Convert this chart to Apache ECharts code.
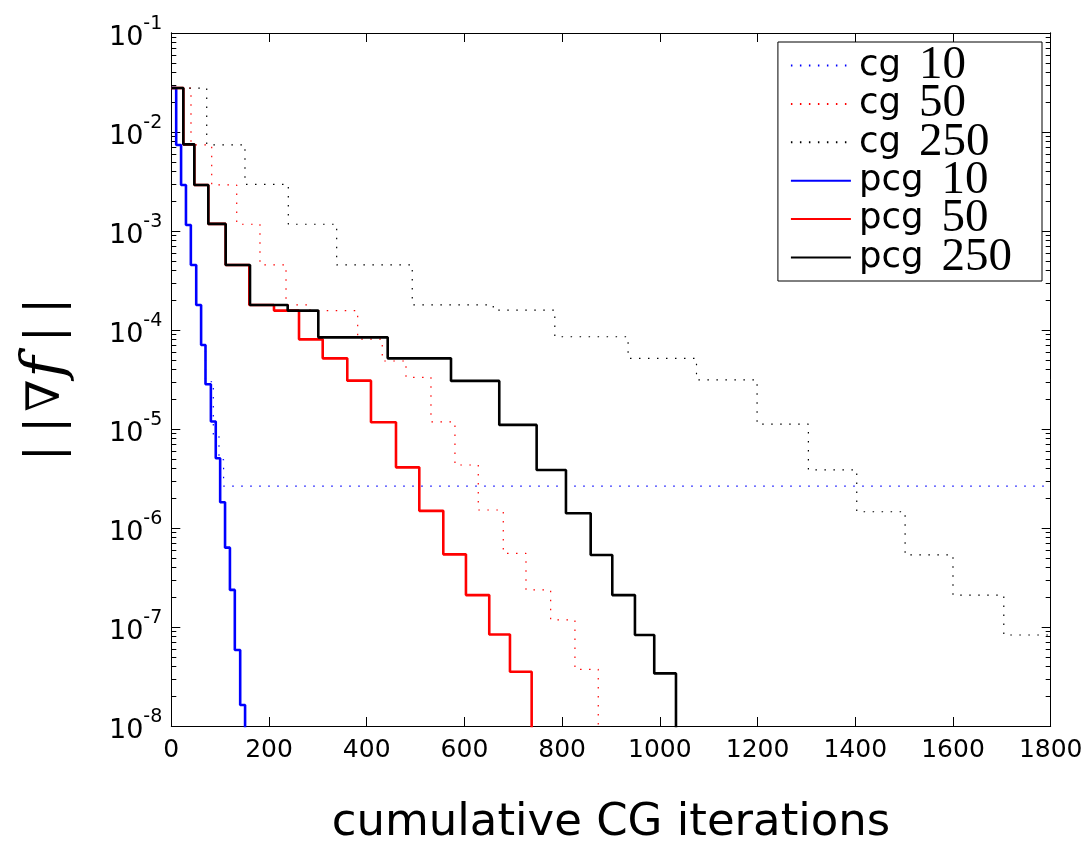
<!DOCTYPE html>
<html><head><meta charset="utf-8">
<script src="https://cdn.jsdelivr.net/npm/echarts@6/dist/echarts.min.js"></script>
<style>html,body{margin:0;padding:0;background:#fff}#c{width:1091px;height:845px}</style>
</head><body><div id="c"></div>
<script>
// ---- data ----
const seriesNames = ['cg 10', 'cg 50', 'cg 250', 'pcg 10', 'pcg 50', 'pcg 250'];
const xTickValues = [0, 200, 400, 600, 800, 1000, 1200, 1400, 1600, 1800];
const yDecadeExponents = [-8, -7, -6, -5, -4, -3, -2, -1];

// step breakpoints: value holds from x[i] until x[i+1]
const cg10X  = [0, 10, 20, 30, 40, 51, 61, 70, 86, 97.6, 107, 1800];
const cg10Y  = [2.78e-2, 7.4e-3, 2.92e-3, 1.15e-3, 4.54e-4, 1.79e-4, 7.05e-5, 3.0e-5, 8.7e-6, 4.9e-6, 2.65e-6, 2.65e-6];

const cg50X  = [0, 40.3, 82.7, 133.9, 181.5, 234.8, 283.9, 381.5, 431.8, 480.4, 531.5, 580.6, 628.3, 679.5, 726, 776.5, 826.2, 873.9];
const cg50Y  = [2.78e-2, 7.4e-3, 2.92e-3, 1.17e-3, 4.54e-4, 1.79e-4, 1.57e-4, 8.1e-5, 4.86e-5, 3.33e-5, 1.18e-5, 4.33e-6, 1.52e-6, 5.55e-7, 2.37e-7, 1.18e-7, 3.74e-8, 3e-9];

const cg250X = [0, 72.5, 150.8, 239.5, 338.5, 493.2, 659, 785, 935, 1075, 1199, 1304, 1403, 1502, 1600, 1704, 1800];
const cg250Y = [2.78e-2, 7.4e-3, 2.96e-3, 1.17e-3, 4.54e-4, 1.79e-4, 1.59e-4, 8.55e-5, 5.17e-5, 3.13e-5, 1.12e-5, 3.86e-6, 1.46e-6, 5.34e-7, 2.1e-7, 8.3e-8, 8.3e-8];

const pcg10X = [0, 10, 20, 30, 40, 51, 61, 70, 81, 91, 100, 110, 120, 130, 141, 151];
const pcg10Y = [2.78e-2, 7.4e-3, 2.92e-3, 1.15e-3, 4.54e-4, 1.79e-4, 7.05e-5, 2.83e-5, 1.19e-5, 5.06e-6, 1.82e-6, 6.33e-7, 2.37e-7, 5.86e-8, 1.63e-8, 3e-9];

const pcg50X = [0, 24.6, 47.1, 75.7, 111.3, 159.6, 210.2, 261.4, 309.9, 360.2, 408.7, 459.9, 507.6, 556.7, 603.1, 650.8, 693.2, 737.6];
const pcg50Y = [2.78e-2, 7.5e-3, 2.92e-3, 1.18e-3, 4.54e-4, 1.79e-4, 1.57e-4, 8.05e-5, 5.17e-5, 3.08e-5, 1.17e-5, 4.1e-6, 1.49e-6, 5.42e-7, 2.1e-7, 8.4e-8, 3.53e-8, 3e-9];

const pcg250X = [0, 24.6, 47.1, 75.7, 111.3, 161.1, 238.2, 300.9, 442.9, 572.5, 671.3, 747.8, 807.8, 858.4, 902.6, 949, 988.5, 1033];
const pcg250Y = [2.78e-2, 7.5e-3, 2.92e-3, 1.18e-3, 4.54e-4, 1.79e-4, 1.57e-4, 8.43e-5, 5.17e-5, 3.06e-5, 1.1e-5, 3.86e-6, 1.41e-6, 5.34e-7, 2.1e-7, 8.3e-8, 3.4e-8, 3e-9];

// ---- build ----
const zip = (xs, ys) => xs.map((x, i) => [x, ys[i]]);
const seriesX = [cg10X, cg50X, cg250X, pcg10X, pcg50X, pcg250X];
const seriesY = [cg10Y, cg50Y, cg250Y, pcg10Y, pcg50Y, pcg250Y];
const colors = ['#0000ff', '#ff0000', '#000000', '#0000ff', '#ff0000', '#000000'];
const dotted = [true, true, true, false, false, false];

const yMajor = yDecadeExponents.map(e => Math.pow(10, e));
const yMinor = [];
yDecadeExponents.slice(0, -1).forEach(e => { for (let m = 2; m <= 9; m++) yMinor.push(m * Math.pow(10, e)); });

const axisCol = '#000';
const yBase = {
  type: 'log', logBase: 10, min: 1e-8, max: 1e-1, splitLine: { show: false },
  axisLine: { show: true, lineStyle: { color: axisCol, width: 1 } }
};

const chart = echarts.init(document.getElementById('c'), null, { renderer: 'canvas' });
chart.setOption({
  animation: false,
  backgroundColor: '#fff',
  grid: { left: 171.3, right: 40.3, top: 33, bottom: 119, containLabel: false, outerBoundsMode: 'none' },
  legend: {
    orient: 'vertical', right: 49, top: 42,
    backgroundColor: '#fff', borderColor: '#000', borderWidth: 1, borderRadius: 0,
    padding: [0, 30, 0, 12], itemGap: -8.6, itemWidth: 60, itemHeight: 14,
    itemStyle: { opacity: 0 },
    data: seriesNames,
    formatter: name => { const p = name.split(' '); return '{a|' + p[0] + '}{b|' + p[1] + '}'; },
    textStyle: {
      rich: {
        a: { fontFamily: 'DejaVu Sans', fontSize: 35.5, color: '#000', padding: [0, 0, 0, 3] },
        b: { fontFamily: 'Liberation Serif', fontSize: 47, color: '#000', padding: [0, 0, 0, 18] }
      }
    }
  },
  xAxis: [
    {
      type: 'value', min: 0, max: 1800, interval: 200, position: 'bottom',
      splitLine: { show: false },
      axisLine: { show: true, onZero: false, lineStyle: { color: axisCol } },
      axisTick: { show: true, inside: true, length: 9, lineStyle: { color: axisCol } },
      axisLabel: { show: true, margin: 12, fontFamily: 'DejaVu Sans', fontSize: 25, color: '#000',
        customValues: xTickValues, formatter: v => String(v) },
      name: 'cumulative CG iterations', nameLocation: 'middle', nameGap: 75,
      nameTextStyle: { fontFamily: 'DejaVu Sans', fontSize: 45, color: '#000' }
    },
    {
      type: 'value', min: 0, max: 1800, interval: 200, position: 'top',
      splitLine: { show: false },
      axisLine: { show: true, onZero: false, lineStyle: { color: axisCol } },
      axisTick: { show: true, inside: true, length: 9, lineStyle: { color: axisCol } },
      axisLabel: { show: false }
    }
  ],
  yAxis: [
    Object.assign({}, yBase, {
      position: 'left',
      axisTick: { show: true, inside: true, length: 9, customValues: yMajor, lineStyle: { color: axisCol } },
      axisLabel: {
        show: true, margin: 9, customValues: yMajor,
        formatter: v => '{b|10}{s|' + Math.round(Math.log10(v)) + '}',
        rich: {
          b: { fontFamily: 'DejaVu Sans', fontSize: 27, color: '#000', verticalAlign: 'bottom', lineHeight: 28, padding: [18, 0, 0, 0] },
          s: { fontFamily: 'DejaVu Sans', fontSize: 19, color: '#000', verticalAlign: 'top', lineHeight: 36 }
        }
      },
      name: '{n||}{m||}{d|∇}{i|f}{k||}{m||}', nameLocation: 'middle', nameGap: 95, nameRotate: 90,
      nameTextStyle: {
        rich: {
          n: { fontFamily: 'DejaVu Serif', fontSize: 48, color: '#000' },
          m: { fontFamily: 'DejaVu Serif', fontSize: 48, color: '#000', padding: [0, 0, 0, 12] },
          d: { fontFamily: 'DejaVu Serif', fontSize: 46, color: '#000', padding: [0, 2, 0, 5] },
          k: { fontFamily: 'DejaVu Serif', fontSize: 48, color: '#000', padding: [0, 0, 0, 14] },
          i: { fontFamily: 'DejaVu Serif', fontStyle: 'italic', fontSize: 58, color: '#000' }
        }
      }
    }),
    Object.assign({}, yBase, {
      position: 'left',
      axisTick: { show: true, inside: true, length: 5, customValues: yMinor, lineStyle: { color: axisCol } },
      axisLabel: { show: false }
    }),
    Object.assign({}, yBase, {
      position: 'right',
      axisTick: { show: true, inside: true, length: 9, customValues: yMajor, lineStyle: { color: axisCol } },
      axisLabel: { show: false }
    }),
    Object.assign({}, yBase, {
      position: 'right',
      axisTick: { show: true, inside: true, length: 5, customValues: yMinor, lineStyle: { color: axisCol } },
      axisLabel: { show: false }
    })
  ],
  series: seriesNames.map((name, i) => ({
    name, type: 'line', step: 'end', xAxisIndex: 0, yAxisIndex: 0,
    data: zip(seriesX[i], seriesY[i]),
    symbol: 'none', clip: true, z: 2 + i,
    itemStyle: { color: colors[i] },
    lineStyle: dotted[i]
      ? { color: colors[i], width: 1.2, type: [1.5, 7.5] }
      : { color: colors[i], width: 2.6, type: 'solid' }
  }))
});
</script></body></html>
